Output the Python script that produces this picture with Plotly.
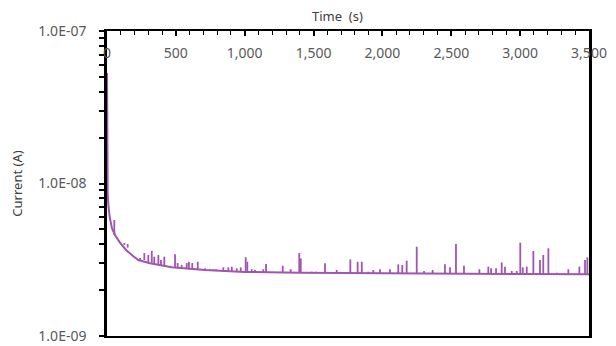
import plotly.graph_objects as go

# Baseline decay of the current (time in s, current in A)
base_time = [0, 2, 5, 10, 20, 36, 58, 94, 140, 189, 227, 312, 470, 712,
             1000, 1400, 1800, 2500, 3000, 3500]
base_current = [5.3e-8, 1.05e-8, 8.5e-9, 7.2e-9, 6.0e-9, 5.1e-9, 4.6e-9, 4.1e-9,
                3.65e-9, 3.35e-9, 3.15e-9, 3.0e-9, 2.82e-9, 2.71e-9,
                2.63e-9, 2.60e-9, 2.58e-9, 2.56e-9, 2.55e-9, 2.54e-9]

# Current spikes: time, peak value, baseline value under the spike
spike_time = [53, 107, 126, 150, 240, 271, 300, 325, 343, 373, 392, 416, 494, 513,
              542, 579, 595, 619, 659, 712, 748, 772, 792, 845, 881, 906, 942, 971,
              1007, 1019, 1051, 1075, 1135, 1155, 1276, 1334, 1396, 1407, 1486, 1518,
              1583, 1668, 1767, 1820, 1850, 1897, 1934, 1982, 2055, 2115, 2144, 2176,
              2249, 2302, 2365, 2454, 2491, 2534, 2592, 2704, 2769, 2789, 2825, 2866,
              2890, 2939, 2975, 3001, 3019, 3048, 3096, 3144, 3168, 3205, 3266, 3350,
              3430, 3471, 3488]
spike_peak = [5.76e-9, 4.09e-9, 4.07e-9, 4.01e-9, 3.15e-9, 3.50e-9, 3.40e-9, 3.62e-9,
              3.31e-9, 3.40e-9, 3.15e-9, 3.31e-9, 3.43e-9, 3.01e-9, 2.92e-9, 3.01e-9,
              3.07e-9, 3.01e-9, 3.07e-9, 2.78e-9, 2.74e-9, 2.74e-9, 2.74e-9, 2.82e-9,
              2.82e-9, 2.85e-9, 2.78e-9, 2.82e-9, 3.28e-9, 3.07e-9, 2.74e-9, 2.71e-9,
              2.74e-9, 2.97e-9, 2.89e-9, 2.74e-9, 3.50e-9, 3.23e-9, 2.64e-9, 2.64e-9,
              3.00e-9, 2.71e-9, 3.18e-9, 3.07e-9, 3.07e-9, 2.64e-9, 2.71e-9, 2.74e-9,
              2.74e-9, 2.95e-9, 2.92e-9, 3.12e-9, 3.85e-9, 2.67e-9, 2.71e-9, 2.95e-9,
              2.82e-9, 4.01e-9, 2.89e-9, 2.74e-9, 2.85e-9, 2.78e-9, 2.78e-9, 3.04e-9,
              2.85e-9, 2.67e-9, 2.67e-9, 4.09e-9, 2.82e-9, 2.85e-9, 3.61e-9, 3.15e-9,
              3.40e-9, 3.76e-9, 2.60e-9, 2.74e-9, 2.85e-9, 3.15e-9, 3.28e-9]
spike_base = [4.6e-9, 4.1e-9, 3.95e-9, 3.8e-9, 3.25e-9, 3.15e-9, 3.05e-9, 3.02e-9,
              3.0e-9, 2.95e-9, 2.92e-9, 2.88e-9, 2.8e-9, 2.79e-9, 2.77e-9, 2.75e-9,
              2.74e-9, 2.73e-9, 2.72e-9, 2.71e-9, 2.70e-9, 2.69e-9, 2.68e-9, 2.67e-9,
              2.66e-9, 2.65e-9, 2.64e-9, 2.63e-9, 2.63e-9, 2.63e-9, 2.62e-9, 2.62e-9,
              2.62e-9, 2.62e-9, 2.61e-9, 2.61e-9, 2.60e-9, 2.60e-9, 2.59e-9, 2.59e-9,
              2.59e-9, 2.59e-9, 2.58e-9, 2.58e-9, 2.58e-9, 2.58e-9, 2.58e-9, 2.58e-9,
              2.57e-9, 2.57e-9, 2.57e-9, 2.57e-9, 2.57e-9, 2.57e-9, 2.57e-9, 2.56e-9,
              2.56e-9, 2.56e-9, 2.56e-9, 2.56e-9, 2.56e-9, 2.56e-9, 2.56e-9, 2.55e-9,
              2.55e-9, 2.55e-9, 2.55e-9, 2.55e-9, 2.55e-9, 2.55e-9, 2.55e-9, 2.55e-9,
              2.55e-9, 2.55e-9, 2.54e-9, 2.54e-9, 2.54e-9, 2.54e-9, 2.54e-9]

x_tick_vals = [0, 500, 1000, 1500, 2000, 2500, 3000, 3500]
x_tick_text = ["0", "500", "1,000", "1,500", "2,000", "2,500", "3,000", "3,500"]
y_tick_vals = [1e-9, 1e-8, 1e-7]
y_tick_text = ["1.0E-09", "1.0E-08", "1.0E-07"]
y_minor_vals = [k * 10.0 ** e for e in (-9, -8) for k in range(2, 10)]

color = "#A055B0"

sx, sy = [], []
for t, p, b in zip(spike_time, spike_peak, spike_base):
    sx += [t, t, None]
    sy += [b, p, None]

fig = go.Figure()
fig.add_trace(go.Scatter(x=base_time, y=base_current, mode="lines",
                         line=dict(color=color, width=2), showlegend=False))
fig.add_trace(go.Scatter(x=sx, y=sy, mode="lines",
                         line=dict(color=color, width=1.8), showlegend=False))

fam = "Noto Sans, Open Sans, sans-serif"
font = dict(family=fam, size=14, color="#595959")

# page body has an 8px margin, so the figure is sized and offset accordingly
fig.update_layout(
    width=608, height=338,
    margin=dict(l=99, r=27, t=23, b=10),
    paper_bgcolor="white", plot_bgcolor="white",
    font=font,
    xaxis=dict(
        side="top", range=[0, 3500], automargin=False,
        tickvals=x_tick_vals, ticktext=x_tick_text,
        ticks="inside", ticklen=5, tickwidth=1.5, tickcolor="black",
        ticklabelposition="inside", ticklabeloverflow="allow", ticklabelstandoff=12,
        minor=dict(dtick=100, ticks="inside", ticklen=4, tickwidth=1.2, tickcolor="black"),
        showline=True, linecolor="black", linewidth=2, mirror=True,
        showgrid=False, zeroline=False,
        tickfont=dict(family=fam, size=14, color="#595959"),
    ),
    yaxis=dict(
        type="log", range=[-9, -6.9999], automargin=False,
        tickvals=y_tick_vals, ticktext=y_tick_text,
        ticks="outside", ticklen=5, tickwidth=2, tickcolor="black",
        ticklabeloverflow="allow", ticklabelstandoff=10,
        minor=dict(tickvals=y_minor_vals, ticks="outside", ticklen=5, tickwidth=2, tickcolor="black"),
        showline=True, linecolor="black", linewidth=2.5, mirror=True,
        showgrid=False, zeroline=False,
        title=dict(text="Current (A)", font=dict(family=fam, size=13, color="#404040"), standoff=24),
        tickfont=dict(family=fam, size=14, color="#595959"),
    ),
    annotations=[dict(text="Time  (s)", xref="paper", yref="paper", x=(337 - 107) / 482,
                      y=1, yshift=15, showarrow=False, xanchor="center", yanchor="middle",
                      font=dict(family=fam, size=13, color="#404040"))],
)

fig.write_html("out.html")
